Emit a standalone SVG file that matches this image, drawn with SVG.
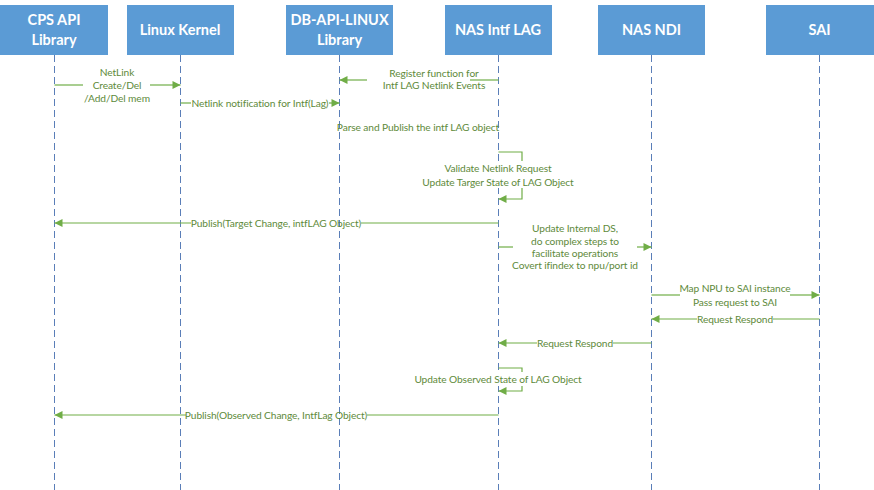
<svg xmlns="http://www.w3.org/2000/svg" width="874" height="490" viewBox="0 0 874 490">
<style>
.box{fill:#5B9BD5}
.hd{font-family:Lato,"Liberation Sans",sans-serif;font-weight:bold;font-size:14.5px;fill:#ffffff;text-anchor:middle}
.life{stroke:#5A7EB8;stroke-width:1;stroke-dasharray:7 4;fill:none}
.msg{stroke:#70AD47;stroke-width:1.2;fill:none}
.lbl{font-family:Lato,"Liberation Sans",sans-serif;font-size:10.2px;letter-spacing:-0.1px;fill:#5E8A3A;text-anchor:middle}
.bg{fill:#ffffff}
</style>
<defs>
<marker id="ah" viewBox="0 0 10 10" refX="10" refY="5" markerWidth="10" markerHeight="8" markerUnits="userSpaceOnUse" orient="auto">
<path d="M0,0 L10,5 L0,10 z" fill="#70AD47"/>
</marker>
</defs>
<rect width="874" height="490" fill="#ffffff"/>
<g id="lifelines">
<line class="life" x1="54.5" y1="55" x2="54.5" y2="490"/>
<line class="life" x1="180.5" y1="55" x2="180.5" y2="490"/>
<line class="life" x1="339.5" y1="55" x2="339.5" y2="490"/>
<line class="life" x1="498.5" y1="55" x2="498.5" y2="490"/>
<line class="life" x1="651.5" y1="55" x2="651.5" y2="490"/>
<line class="life" x1="819.5" y1="55" x2="819.5" y2="490"/>
</g>
<g id="n-cps"><rect class="box" x="0" y="5" width="108" height="50"/><text class="hd" x="54" y="25">CPS API</text><text class="hd" x="54" y="45">Library</text></g>
<g id="n-kernel"><rect class="box" x="127" y="5" width="107" height="50"/><text class="hd" x="180" y="35">Linux Kernel</text></g>
<g id="n-dbapi"><rect class="box" x="286" y="5" width="107" height="50"/><text class="hd" x="339.5" y="25">DB-API-LINUX</text><text class="hd" x="339.5" y="45">Library</text></g>
<g id="n-naslag"><rect class="box" x="445" y="5" width="107" height="50"/><text class="hd" x="498" y="35">NAS Intf LAG</text></g>
<g id="n-nasndi"><rect class="box" x="598" y="5" width="107" height="50"/><text class="hd" x="651.5" y="35">NAS NDI</text></g>
<g id="n-sai"><rect class="box" x="766" y="5" width="108" height="50"/><text class="hd" x="819.5" y="35">SAI</text></g>
<g id="connectors">
<path class="msg" d="M54.5,85 H83"/>
<path class="msg" d="M150,85 H180.5" marker-end="url(#ah)"/>
<path class="msg" d="M498.5,80 H470"/>
<path class="msg" d="M367,80 H339.5" marker-end="url(#ah)"/>
<path class="msg" d="M180.5,103 H191"/>
<path class="msg" d="M329,103 H339.5" marker-end="url(#ah)"/>
<path class="msg" d="M498.5,152 H522 V199 H498.5" marker-end="url(#ah)"/>
<path class="msg" d="M498.5,223 H361"/>
<path class="msg" d="M191,223 H54.5" marker-end="url(#ah)"/>
<path class="msg" d="M498.5,247 H513"/>
<path class="msg" d="M637,247 H651.5" marker-end="url(#ah)"/>
<path class="msg" d="M651.5,295 H680"/>
<path class="msg" d="M790,295 H819.5" marker-end="url(#ah)"/>
<path class="msg" d="M819.5,319 H773"/>
<path class="msg" d="M697,319 H651.5" marker-end="url(#ah)"/>
<path class="msg" d="M651.5,343 H613"/>
<path class="msg" d="M537,343 H498.5" marker-end="url(#ah)"/>
<path class="msg" d="M498.5,368 H522 V391 H498.5" marker-end="url(#ah)"/>
<path class="msg" d="M498.5,415 H367"/>
<path class="msg" d="M186,415 H54.5" marker-end="url(#ah)"/>
</g>
<g id="labels">
<text class="lbl" x="117" y="76">NetLink</text>
<text class="lbl" x="117" y="89">Create/Del</text>
<text class="lbl" x="117" y="102">/Add/Del mem</text>
<text class="lbl" x="434" y="77">Register function for</text>
<text class="lbl" x="434" y="89">Intf LAG Netlink Events</text>
<text class="lbl" x="260" y="107">Netlink notification for Intf(Lag)</text>
<text class="lbl" x="418" y="131">Parse and Publish the intf LAG object</text>
<rect class="bg" x="446" y="161" width="104" height="27"/>
<text class="lbl" x="498" y="172">Validate Netlink Request</text>
<text class="lbl" x="498" y="186">Update Targer State of LAG Object</text>
<text class="lbl" x="276" y="227">Publish(Target Change, intfLAG Object)</text>
<text class="lbl" x="575" y="232">Update Internal DS,</text>
<text class="lbl" x="575" y="245">do complex steps to</text>
<text class="lbl" x="575" y="257">facilitate operations</text>
<text class="lbl" x="575" y="269">Covert ifindex to npu/port id</text>
<text class="lbl" x="735" y="292">Map NPU to SAI instance</text>
<text class="lbl" x="735" y="306">Pass request to SAI</text>
<text class="lbl" x="735" y="323">Request Respond</text>
<text class="lbl" x="575" y="347">Request Respond</text>
<rect class="bg" x="418" y="372" width="162" height="14"/>
<text class="lbl" x="498" y="383">Update Observed State of LAG Object</text>
<text class="lbl" x="276" y="419">Publish(Observed Change, IntfLag Object)</text>
</g>
</svg>
